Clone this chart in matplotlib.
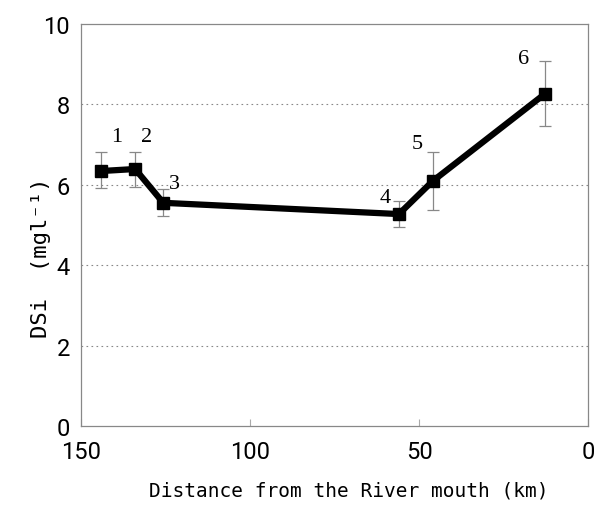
import matplotlib
matplotlib.use("Agg")
import matplotlib.pyplot as plt

# データ: 河口からの距離 [km] と DSi [mg/l]
stations = ["1", "2", "3", "4", "5", "6"]
distance = [144, 134, 125.7, 56, 46, 12.8]
dsi      = [6.34, 6.39, 5.55, 5.27, 6.09, 8.26]
err_low  = [5.92, 5.95, 5.22, 4.95, 5.37, 7.46]
err_high = [6.82, 6.82, 5.90, 5.60, 6.82, 9.08]

# ラベル位置 (データ座標)
label_x = [139.5, 130.5, 122.5, 60, 50.5, 19]
label_y = [6.97, 6.97, 5.8, 5.45, 6.8, 8.9]

yerr = [[d - lo for d, lo in zip(dsi, err_low)],
        [hi - d for d, hi in zip(dsi, err_high)]]

fig = plt.figure(figsize=(5.96, 5.06), dpi=100)
ax = fig.add_axes([0.136, 0.156, 0.851, 0.795])

ax.errorbar(distance, dsi, yerr=yerr, fmt="none", ecolor="#888888",
            elinewidth=0.9, capsize=4, capthick=0.9, zorder=2)
ax.plot(distance, dsi, color="black", lw=4.5, marker="s", ms=8,
        solid_joinstyle="miter", zorder=3)

for s, lx, ly in zip(stations, label_x, label_y):
    ax.text(lx, ly, s, fontsize=16, family="Liberation Serif",
            ha="center", va="bottom")

ax.set_xlim(150, 0)
ax.set_ylim(0, 10)
ax.set_xticks([150, 100, 50, 0])
ax.set_yticks([0, 2, 4, 6, 8, 10])
for y in [2, 4, 6, 8]:
    ax.axhline(y, color="#888888", lw=0.8, ls=(0, (1.5, 3)), zorder=1)

for sp in ax.spines.values():
    sp.set_color("#888888")
    sp.set_linewidth(0.9)

ax.tick_params(axis="x", direction="in", length=5, color="#aaaaaa", pad=10)
ax.tick_params(axis="y", length=0, pad=8)
for lab in ax.get_xticklabels() + ax.get_yticklabels():
    lab.set_family(["Roboto", "DejaVu Sans"])
    lab.set_fontsize(17)

ax.set_xlabel("Distance from the River mouth (km)", fontsize=14,
              family="DejaVu Sans Mono")
ax.set_ylabel("DSi  (mgl⁻¹)", fontsize=16, family="DejaVu Sans Mono")
ax.xaxis.set_label_coords(0.527, -0.135)
ax.yaxis.set_label_coords(-0.06, 0.42)

fig.savefig("out.png", dpi=100)
